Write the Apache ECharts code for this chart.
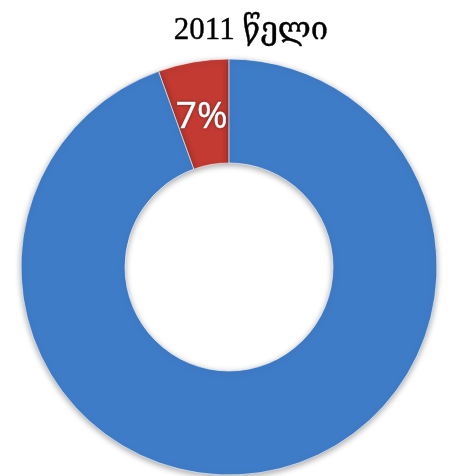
<!DOCTYPE html>
<html><head><meta charset="utf-8">
<script src="https://cdn.jsdelivr.net/npm/echarts@6/dist/echarts.min.js"></script>
<style>html,body{margin:0;padding:0;background:#fff}#c{width:452px;height:476px}</style>
</head><body><div id="c"></div>
<script>
const titleText = "2011 წელი";
const categories = ["red", "blue"];
const values = [5.5, 94.5];
const labels = ["7%", ""];
const colors = ["#c23a32", "#3f7cc8"];

const chart = echarts.init(document.getElementById('c'), null, {renderer: 'canvas'});
chart.setOption({
  animation: false,
  title: {
    text: titleText, left: 246, top: 10, textAlign: 'center',
    textStyle: {fontFamily: '"Liberation Serif","DejaVu Serif",serif', fontSize: 31, fontWeight: 'normal', color: '#000', textBorderColor: '#000', textBorderWidth: 0.4}
  },
  series: [{
    type: 'pie',
    center: [229, 267],
    radius: [104, 208],
    startAngle: 90,
    clockwise: false,
    data: categories.map((n, i) => ({
      name: n, value: values[i],
      itemStyle: {color: colors[i]},
      label: {formatter: labels[i]}
    })),
    itemStyle: {borderColor: 'rgba(255,255,255,0.6)', borderWidth: 1, shadowBlur: 6, shadowColor: 'rgba(0,0,0,0.35)', shadowOffsetY: 2},
    label: {show: true, position: 'inside', offset: [0, 7], color: '#fff', fontSize: 37, fontFamily: '"Open Sans","Liberation Sans",sans-serif', textBorderColor: '#fff', textBorderWidth: 0.6, textShadowColor: 'rgba(0,0,0,0.4)', textShadowBlur: 3},
    labelLine: {show: false},
    emphasis: {disabled: true}
  }]
});
</script></body></html>
